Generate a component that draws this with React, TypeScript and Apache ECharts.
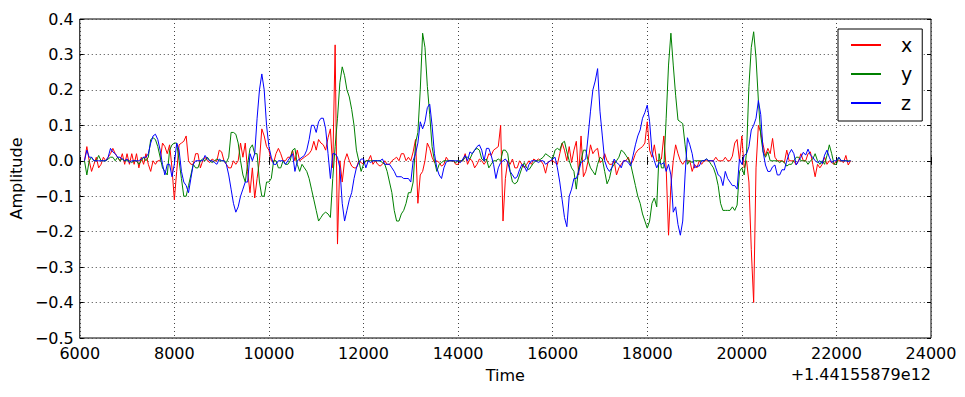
import React, { useEffect, useRef } from "react";
import * as echarts from "echarts";

// Time offset relative to 1.44155879e12, sampled every 50 units
const T_START = 6100;
const T_STEP = 50;

const xValues: number[] = [
  0.0, 0.04, 0.0, -0.03, -0.01, 0.01, -0.02, -0.01, 0.01, 0.0,
  0.01, 0.02, 0.035, 0.02, 0.01, 0.0, 0.02, -0.01, 0.02, -0.01,
  0.02, -0.01, 0.02, -0.02, 0.01, -0.01, 0.02, -0.01, -0.03, 0.0,
  -0.01, 0.0, 0.0, 0.05, 0.04, 0.02, 0.045, -0.02, -0.11, -0.03,
  0.045, 0.05, 0.055, 0.07, 0.0, -0.01, -0.01, 0.02, 0.02, -0.02,
  0.0, 0.01, 0.0, -0.005, 0.005, 0.0, 0.0, 0.03, 0.025, 0.0,
  -0.01, -0.02, -0.02, 0.0, -0.01, 0.0, 0.05, 0.01, 0.05, -0.03,
  -0.09, -0.02, -0.105, -0.05, 0.0, 0.09, 0.07, 0.04, 0.03, 0.0,
  -0.005, 0.02, 0.035, 0.02, 0.0, 0.0, 0.01, 0.01, 0.03, 0.0,
  0.03, 0.0, 0.005, 0.01, 0.015, 0.02, 0.03, 0.055, 0.03, 0.06,
  0.05, 0.045, 0.03, 0.065, 0.09, -0.02, 0.327, -0.235, 0.0, -0.06,
  0.0, 0.02, 0.0, -0.015, -0.02, -0.02, 0.0, -0.005, -0.01, 0.0,
  0.0, 0.015, -0.01, 0.0, -0.01, -0.015, -0.01, 0.0, -0.01, -0.01,
  0.0, 0.005, 0.01, 0.0, 0.02, 0.02, 0.0, 0.01, 0.0, 0.025,
  0.06, -0.12, -0.04, -0.03, 0.0, 0.05, 0.035, 0.01, -0.005, 0.0,
  -0.005, -0.015, -0.01, 0.01, 0.0, 0.0, 0.0, -0.01, -0.01, 0.0,
  0.0, 0.02, -0.01, 0.005, 0.0, -0.02, -0.01, 0.005, 0.0, -0.01,
  0.0, 0.02, 0.015, 0.03, 0.035, 0.04, 0.1, -0.17, -0.05, 0.0,
  -0.01, 0.005, -0.02, -0.02, 0.0, -0.01, -0.02, -0.01, 0.0, -0.01,
  0.005, 0.0, 0.005, 0.0, -0.01, -0.035, -0.005, 0.0, 0.0, -0.005,
  -0.01, 0.02, 0.05, 0.03, 0.0, 0.04, -0.005, 0.03, 0.055, -0.04,
  0.07, -0.045, -0.03, 0.0, 0.045, 0.02, 0.03, 0.035, -0.005, 0.0,
  0.02, 0.0, -0.01, -0.01, 0.0, -0.04, -0.02, -0.01, 0.0, 0.0,
  0.01, -0.01, 0.0, 0.02, 0.03, 0.035, 0.04, 0.05, 0.11, 0.03,
  0.01, 0.045, 0.0, 0.0, 0.005, 0.07, -0.02, -0.21, -0.07, 0.0,
  0.045, 0.02, 0.0, -0.01, 0.0, 0.0, 0.0, -0.03, -0.01, -0.02,
  0.0, -0.01, 0.0, 0.0, 0.0, 0.0, 0.0, 0.01, 0.0, 0.0,
  0.0, 0.01, 0.0, 0.0, 0.013, 0.05, 0.06, 0.0, 0.07, -0.02,
  0.0, -0.06, -0.25, -0.4, -0.02, 0.1, 0.08, 0.045, 0.015, 0.035,
  0.02, 0.063, 0.01, 0.0, 0.0, 0.0, -0.005, 0.03, 0.0, 0.0,
  0.0, -0.012, 0.0, 0.02, 0.0, 0.0, 0.02, 0.025, -0.01, -0.045,
  -0.01, -0.02, -0.01, 0.01, -0.01, 0.0, -0.005, -0.01, 0.0, 0.0,
  0.0, -0.005, 0.015, -0.012, 0.0,
];

const yValues: number[] = [
  0.0, -0.04, 0.0, 0.01, 0.0, 0.0, 0.015, 0.0, 0.0, 0.0,
  0.005, 0.01, 0.01, 0.0, 0.01, 0.0, 0.005, 0.0, 0.0, 0.0,
  -0.005, 0.0, 0.0, -0.01, 0.0, 0.01, 0.0, 0.01, 0.06, 0.065,
  0.06, 0.04, 0.01, -0.02, -0.03, -0.04, 0.03, 0.045, 0.05, 0.05,
  0.0, -0.05, -0.1, -0.1, -0.07, -0.04, -0.01, -0.02, -0.02, 0.0,
  0.005, 0.0, 0.01, 0.0, -0.005, 0.0, 0.005, 0.0, 0.0, 0.0,
  -0.005, 0.01, 0.08, 0.08, 0.075, 0.05, 0.0, -0.04, -0.06, -0.01,
  0.035, 0.045, 0.02, 0.02, -0.06, -0.1, -0.1, -0.06, -0.06, -0.05,
  0.0, 0.0, -0.02, -0.02, 0.0, -0.01, -0.01, 0.0, 0.03, 0.035,
  -0.01, -0.03, -0.01, -0.02, -0.03, -0.05, -0.08, -0.11, -0.14, -0.17,
  -0.16, -0.15, -0.145, -0.15, -0.16, -0.05, 0.04, 0.12, 0.22, 0.265,
  0.24, 0.2, 0.18, 0.145, 0.1, 0.03, 0.0, -0.03, -0.01, 0.0,
  0.0, 0.0, 0.0, 0.0, 0.0, 0.0, -0.005, -0.01, -0.03, -0.06,
  -0.09, -0.14, -0.17, -0.17, -0.15, -0.14, -0.12, -0.09, -0.09, -0.06,
  0.05, 0.08, 0.2, 0.36, 0.32, 0.21, 0.13, 0.04, 0.0, -0.03,
  -0.01, -0.005, 0.0, 0.0, 0.0, 0.0, 0.0, -0.005, 0.0, 0.0,
  0.0, 0.01, 0.01, 0.005, 0.02, 0.03, 0.035, 0.03, 0.005, 0.0,
  0.005, -0.02, -0.01, 0.0, 0.0, 0.005, 0.0, 0.03, 0.03, 0.02,
  -0.03, -0.06, -0.065, -0.06, -0.04, -0.02, -0.005, -0.02, -0.025, -0.015,
  -0.005, 0.0, 0.0, 0.005, 0.01, 0.02, 0.015, 0.01, 0.005, 0.03,
  0.035, 0.03, 0.05, 0.055, 0.025, 0.0, -0.02, -0.03, -0.08, -0.02,
  0.0, 0.03, 0.03, 0.0, -0.02, -0.03, -0.04, -0.01, 0.01, 0.005,
  -0.03, -0.065, -0.05, -0.02, -0.01, 0.0, 0.01, 0.03, 0.025, 0.015,
  0.005, -0.01, -0.04, -0.07, -0.1, -0.12, -0.15, -0.17, -0.19, -0.17,
  -0.12, -0.105, -0.13, 0.02, -0.02, -0.02, 0.12, 0.27, 0.36, 0.27,
  0.185, 0.115, 0.11, 0.105, 0.045, -0.01, 0.0, -0.005, 0.0, 0.0,
  0.0, 0.0, 0.0, 0.005, 0.0, -0.01, -0.02, -0.04, -0.07, -0.12,
  -0.14, -0.14, -0.14, -0.14, -0.13, -0.14, -0.125, -0.03, -0.02, -0.04,
  0.025, 0.21, 0.32, 0.364, 0.29, 0.17, 0.07, 0.025, 0.01, 0.025,
  0.0, 0.0, 0.0, 0.0, -0.005, 0.0, -0.005, -0.015, -0.01, -0.01,
  0.0, 0.01, 0.01, 0.0, 0.0, 0.0, -0.01, 0.0, 0.005, 0.02,
  0.0, -0.01, 0.0, -0.01, 0.015, 0.045, 0.02, -0.01, -0.01, 0.01,
  0.0, 0.0, 0.0, 0.0, 0.0,
];

const zValues: number[] = [
  0.0, 0.03, 0.01, 0.01, 0.0, 0.0, 0.0, 0.0, 0.0, 0.0,
  0.01, 0.035, 0.025, 0.02, 0.01, 0.01, 0.005, 0.0, 0.005, -0.005,
  0.0, 0.0, 0.0, 0.0, 0.005, 0.01, 0.01, 0.02, 0.05, 0.07,
  0.075, 0.06, 0.03, -0.01, -0.04, -0.01, -0.01, -0.045, -0.01, 0.05,
  0.03, -0.03, -0.06, -0.07, -0.09, -0.05, -0.01, 0.0, 0.0, 0.0,
  0.0, 0.015, 0.005, 0.0, 0.0, -0.005, -0.01, 0.005, 0.0, 0.0,
  -0.01, -0.04, -0.08, -0.12, -0.145, -0.13, -0.1, -0.08, -0.06, -0.06,
  0.02, 0.0, 0.02, 0.12, 0.2, 0.245, 0.2, 0.1, 0.04, 0.01,
  -0.01, -0.01, 0.0, 0.0, 0.0, -0.01, 0.0, 0.01, 0.02, -0.03,
  0.0, 0.005, 0.01, 0.015, 0.03, 0.06, 0.1, 0.1, 0.08, 0.11,
  0.12, 0.12, 0.09, 0.02, -0.05, 0.02, 0.02, 0.01, -0.02, -0.12,
  -0.17, -0.14, -0.11, -0.09, -0.05, -0.02, -0.005, 0.005, 0.005, -0.02,
  0.0, -0.005, 0.0, 0.0, 0.0, 0.0, 0.005, -0.01, -0.01, -0.01,
  -0.02, -0.03, -0.045, -0.045, -0.045, -0.05, -0.05, -0.05, -0.06, 0.0,
  0.02, 0.05, 0.11, 0.09, 0.11, 0.15, 0.16, 0.1, 0.02, -0.02,
  -0.04, -0.05, -0.02, -0.003, 0.0, 0.0, 0.0, 0.0, 0.0, -0.005,
  0.005, 0.015, 0.0, 0.025, 0.02, 0.03, 0.04, 0.045, 0.03, 0.0,
  0.035, 0.035, 0.015, -0.01, -0.05, -0.02, -0.005, 0.0, 0.005, -0.005,
  -0.03, -0.04, -0.05, -0.045, -0.025, -0.01, -0.015, -0.03, -0.01, 0.0,
  0.0, 0.0, -0.005, 0.0, 0.0, -0.01, -0.005, 0.0, 0.005, 0.01,
  -0.02, -0.06, -0.11, -0.16, -0.186, -0.1, -0.08, -0.05, -0.05, -0.03,
  -0.005, 0.0, 0.005, 0.07, 0.14, 0.2, 0.225, 0.26, 0.14, 0.07,
  0.0, -0.02, -0.03, -0.02, 0.005, -0.005, -0.01, -0.02, 0.0, 0.0,
  -0.005, -0.015, 0.015, 0.045, 0.07, 0.087, 0.12, 0.136, 0.157, 0.11,
  0.025, 0.0, -0.02, -0.005, -0.01, -0.005, -0.03, -0.01, -0.04, -0.145,
  -0.13, -0.18, -0.21, -0.17, -0.04, 0.065, 0.045, 0.02, -0.02, -0.015,
  -0.015, 0.0, 0.0, 0.005, 0.0, 0.0, 0.0, -0.02, -0.04, -0.045,
  -0.07, -0.03, -0.05, -0.06, -0.07, -0.07, -0.08, 0.005, -0.01, 0.015,
  0.02, 0.04, 0.087, 0.1, 0.12, 0.17, 0.13, 0.025, -0.012, -0.03,
  -0.03, -0.017, -0.012, -0.04, -0.04, -0.025, -0.026, 0.0, 0.02, 0.032,
  0.02, -0.012, 0.0, 0.01, 0.024, 0.016, 0.033, 0.016, 0.01, 0.0,
  -0.005, 0.0, -0.008, 0.016, 0.03, 0.01, -0.005, 0.0, 0.0, 0.01,
  0.0, 0.0, 0.0, -0.002, 0.0,
];

const seriesNames = ["x", "y", "z"];
const seriesColors = ["#ff0000", "#008000", "#0000ff"];
const xAxisTitle = "Time";
const yAxisTitle = "Amplitude";
const offsetLabel = "+1.44155879e12";

const FONT = "DejaVu Sans";

function fmtY(v: number): string {
  const s = Math.abs(v) < 1e-9 ? "0.0" : v.toFixed(1);
  return s.replace("-", "\u2212");
}

function fmtX(v: number): string {
  return String(Math.round(v));
}

export default function App() {
  const ref = useRef<HTMLDivElement>(null);
  useEffect(() => {
    if (!ref.current) return;
    const chart = echarts.init(ref.current, undefined, { renderer: "svg" });
    const allValues = [xValues, yValues, zValues];
    const times = xValues.map((_, i) => T_START + i * T_STEP);
    const gridLine = { show: true, lineStyle: { color: "#444", width: 1, type: [1, 3] as any } };
    const tick = { show: true, inside: true, length: 4, lineStyle: { color: "#000", width: 1 } };
    chart.setOption({
      animation: false,
      backgroundColor: "#fff",
      grid: { left: 78, right: 34, top: 19, bottom: 59, show: true, borderColor: "#000", borderWidth: 1, backgroundColor: "transparent" },
      xAxis: [
        {
          type: "value", min: 6000, max: 24000, interval: 2000, position: "bottom",
          name: xAxisTitle, nameLocation: "middle", nameGap: 29,
          nameTextStyle: { fontFamily: FONT, fontSize: 16, color: "#000" },
          axisLine: { show: false }, axisTick: tick, splitLine: gridLine,
          axisLabel: { fontFamily: FONT, fontSize: 16, color: "#000", margin: 7, formatter: fmtX },
        },
        {
          type: "value", min: 6000, max: 24000, interval: 2000, position: "top",
          axisLine: { show: false }, axisTick: tick, splitLine: { show: false }, axisLabel: { show: false },
        },
      ],
      yAxis: [
        {
          type: "value", min: -0.5, max: 0.4, interval: 0.1, position: "left",
          name: yAxisTitle, nameLocation: "middle", nameGap: 52, nameRotate: 90,
          nameTextStyle: { fontFamily: FONT, fontSize: 16, color: "#000" },
          axisLine: { show: false }, axisTick: tick, splitLine: gridLine,
          axisLabel: { fontFamily: FONT, fontSize: 16, color: "#000", margin: 6, formatter: fmtY },
        },
        {
          type: "value", min: -0.5, max: 0.4, interval: 0.1, position: "right",
          axisLine: { show: false }, axisTick: tick, splitLine: { show: false }, axisLabel: { show: false },
        },
      ],
      legend: {
        orient: "vertical", left: 838, top: 29,
        padding: [6, 10, 8, 13], itemGap: 9, itemWidth: 30, itemHeight: 2,
        icon: "rect", borderColor: "#000", borderWidth: 1, backgroundColor: "#fff",
        textStyle: { fontFamily: FONT, fontSize: 19, color: "#000", padding: [0, 0, 0, 15], lineHeight: 20 },
        data: seriesNames,
      },
      graphic: [
        {
          type: "text", right: 34, top: 366,
          style: { text: offsetLabel, font: `16px "${FONT}"`, fill: "#000" },
        },
      ],
      series: seriesNames.map((name, k) => ({
        name, type: "line", xAxisIndex: 0, yAxisIndex: 0,
        data: times.map((t, i) => [t, allValues[k][i]]),
        showSymbol: false, symbol: "none", clip: true,
        lineStyle: { color: seriesColors[k], width: 1 },
        itemStyle: { color: seriesColors[k] },
        emphasis: { disabled: true },
        z: 2 + k,
      })),
    });
    return () => chart.dispose();
  }, []);
  return <div ref={ref} style={{ position: "fixed", left: 0, top: 0, width: 965, height: 397 }} />;
}
